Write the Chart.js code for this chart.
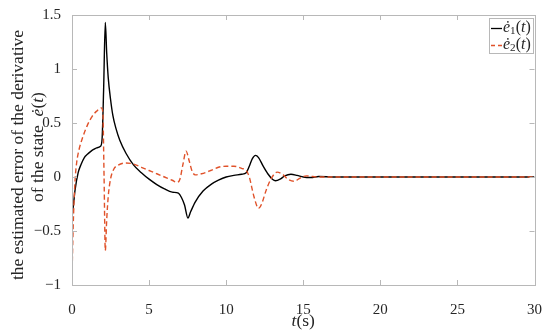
<!DOCTYPE html>
<html>
<head>
<meta charset="utf-8">
<script src="https://cdn.jsdelivr.net/npm/chart.js@4.4.1/dist/chart.umd.min.js"></script>
<style>
  html, body { margin: 0; padding: 0; background: #fff; }
  #wrap { width: 550px; height: 334px; }
</style>
</head>
<body>
<div id="wrap"><canvas id="myChart"></canvas></div>
<script>
'use strict'

// DATA
const e1Time = [0, 0.1, 0.2, 0.4, 0.6, 0.8, 1.0, 1.2, 1.4, 1.6, 1.85, 1.95, 2.05, 2.16, 2.25, 2.35, 2.5, 2.65, 2.85, 3.1, 3.5, 4.0, 4.5, 5.0, 5.5, 6.0, 6.5, 6.9, 7.1, 7.3, 7.52, 7.7, 8.0, 8.5, 9.0, 9.5, 10.0, 10.5, 11.0, 11.3, 11.5, 11.7, 11.9, 12.1, 12.4, 12.7, 13.0, 13.2, 13.5, 13.8, 14.2, 14.6, 15.0, 15.5, 16, 17, 20, 25, 30];
const e1Values = [-0.38, -0.25, -0.12, 0.04, 0.12, 0.18, 0.21, 0.235, 0.255, 0.27, 0.285, 0.35, 0.8, 1.43, 1.15, 0.92, 0.72, 0.57, 0.45, 0.34, 0.22, 0.11, 0.04, -0.02, -0.07, -0.11, -0.14, -0.15, -0.19, -0.26, -0.38, -0.32, -0.23, -0.13, -0.07, -0.03, 0.0, 0.015, 0.025, 0.04, 0.1, 0.17, 0.2, 0.18, 0.1, 0.03, -0.02, -0.035, -0.02, 0.01, 0.025, 0.015, 0.0, -0.005, 0.005, 0, 0, 0, 0];

const e2Time = [0, 0.05, 0.1, 0.2, 0.3, 0.45, 0.7, 1.0, 1.3, 1.6, 1.9, 2.0, 2.08, 2.16, 2.25, 2.35, 2.5, 2.7, 3.0, 3.5, 4.0, 4.5, 5.0, 5.5, 6.0, 6.5, 6.8, 7.0, 7.2, 7.4, 7.6, 7.8, 8.0, 8.4, 9.0, 9.5, 10.0, 10.5, 11.0, 11.3, 11.5, 11.8, 12.1, 12.3, 12.6, 12.9, 13.3, 13.7, 14.0, 14.4, 14.8, 15.2, 15.6, 16, 17, 20, 25, 30];
const e2Values = [-0.93, -0.6, -0.35, -0.03, 0.13, 0.25, 0.37, 0.48, 0.56, 0.61, 0.64, 0.6, 0.0, -0.68, -0.4, -0.18, -0.02, 0.07, 0.11, 0.13, 0.12, 0.09, 0.06, 0.03, 0.0, -0.03, -0.05, -0.02, 0.12, 0.24, 0.15, 0.05, 0.02, 0.03, 0.06, 0.09, 0.1, 0.1, 0.08, 0.06, 0.0, -0.18, -0.29, -0.25, -0.12, -0.02, 0.045, 0.02, -0.02, -0.04, -0.01, 0.01, 0.005, 0, 0, 0, 0, 0];

const xTicks = [0, 5, 10, 15, 20, 25, 30];
const yTicks = [-1, -0.5, 0, 0.5, 1, 1.5];

const SERIF = "'Liberation Serif', 'Times New Roman', serif";
const AXIS_GREY = '#b8b8b8';
const TEXT_DARK = '#262626';
const RED = '#e0522a';

function toPoints(times, values) {
  return times.map((t, i) => ({ x: t, y: values[i] }));
}

function tickText(v) {
  return String(v).replace('-', '\u2212');
}

// text made of parts: [text, style] style = 'n' normal, 'i' italic, 'sub' subscript
function richWidth(ctx, parts, size) {
  let w = 0;
  for (const [s, st] of parts) {
    let sz = st === 'sub' ? size * 0.7 : size;
    ctx.font = (st === 'i' ? 'italic ' : '') + sz + 'px ' + SERIF;
    w += ctx.measureText(s).width;
  }
  return w;
}

function drawRich(ctx, parts, x, y, size) {
  let cx = x;
  ctx.textAlign = 'left';
  for (const [s, st] of parts) {
    let sz = st === 'sub' ? size * 0.7 : size;
    ctx.font = (st === 'i' ? 'italic ' : '') + sz + 'px ' + SERIF;
    ctx.fillText(s, cx, st === 'sub' ? y + size * 0.22 : y);
    cx += ctx.measureText(s).width;
  }
}

const boxPlugin = {
  id: 'boxPlugin',
  afterDatasetsDraw(chart) {
    const ctx = chart.ctx;
    const a = chart.chartArea;
    const x = chart.scales.x;
    const y = chart.scales.y;
    ctx.save();
    ctx.strokeStyle = AXIS_GREY;
    ctx.lineWidth = 1;
    ctx.strokeRect(Math.round(a.left) + 0.5, Math.round(a.top) + 0.5, Math.round(a.right - a.left), Math.round(a.bottom - a.top));
    ctx.beginPath();
    x.ticks.forEach(t => {
      let px = Math.round(x.getPixelForValue(t.value)) + 0.5;
      ctx.moveTo(px, a.bottom); ctx.lineTo(px, a.bottom - 5);
      ctx.moveTo(px, a.top); ctx.lineTo(px, a.top + 5);
    });
    y.ticks.forEach(t => {
      let py = Math.round(y.getPixelForValue(t.value)) + 0.5;
      ctx.moveTo(a.left, py); ctx.lineTo(a.left + 5, py);
      ctx.moveTo(a.right, py); ctx.lineTo(a.right - 5, py);
    });
    ctx.stroke();
    ctx.restore();
  },
  afterDraw(chart) {
    const ctx = chart.ctx;
    const a = chart.chartArea;
    ctx.save();
    ctx.fillStyle = TEXT_DARK;
    ctx.textBaseline = 'middle';
    ctx.textAlign = 'left';

    // y axis title, two lines rotated
    const line1 = [['the estimated error of the derivative', 'n']];
    const line2 = [['of the state', 'n'], ['\u2002', 'n'], ['\u0117', 'i'], ['(', 'n'], ['t', 'i'], [')', 'n']];
    ctx.save();
    ctx.translate(18, 155);
    ctx.rotate(-Math.PI / 2);
    drawRich(ctx, line1, -richWidth(ctx, line1, 17.5) / 2, 0, 17.5);
    ctx.restore();
    ctx.save();
    ctx.translate(38, 147);
    ctx.rotate(-Math.PI / 2);
    drawRich(ctx, line2, -richWidth(ctx, line2, 17.5) / 2, 0, 17.5);
    ctx.restore();

    // x axis title
    const xt = [['t', 'i'], ['(s)', 'n']];
    drawRich(ctx, xt, (a.left + a.right) / 2 - richWidth(ctx, xt, 17.5) / 2, 321, 17.5);

    // legend box
    const lx = 489, ly = 18, lw = 44, lh = 35;
    ctx.fillStyle = '#fff';
    ctx.fillRect(lx, ly, lw, lh);
    ctx.strokeStyle = AXIS_GREY;
    ctx.lineWidth = 1;
    ctx.strokeRect(lx + 0.5, ly + 0.5, lw, lh);

    const items = [
      { color: '#000', dash: [], parts: [['\u0117', 'i'], ['1', 'sub'], ['(', 'n'], ['t', 'i'], [')', 'n']], y: 28 },
      { color: RED, dash: [4, 3], parts: [['\u0117', 'i'], ['2', 'sub'], ['(', 'n'], ['t', 'i'], [')', 'n']], y: 45 }
    ];
    items.forEach(it => {
      ctx.strokeStyle = it.color;
      ctx.lineWidth = 1.3;
      ctx.setLineDash(it.dash);
      ctx.beginPath();
      ctx.moveTo(lx + 2, it.y + 0.5);
      ctx.lineTo(lx + 13, it.y + 0.5);
      ctx.stroke();
      ctx.setLineDash([]);
      ctx.fillStyle = TEXT_DARK;
      drawRich(ctx, it.parts, lx + 14, it.y, 16);
    });
    ctx.restore();
  }
};

const data = {
  datasets: [{
    label: '\u0117\u2081(t)',
    data: toPoints(e1Time, e1Values),
    borderColor: '#000',
    borderWidth: 1.4,
    pointRadius: 0,
    cubicInterpolationMode: 'monotone',
    order: 1
  },
  {
    label: '\u0117\u2082(t)',
    data: toPoints(e2Time, e2Values),
    borderColor: RED,
    borderWidth: 1.4,
    borderDash: [5, 3],
    pointRadius: 0,
    cubicInterpolationMode: 'monotone',
    order: 0
  }]
};

const config = {
  type: 'line',
  data: data,
  options: {
    responsive: true,
    maintainAspectRatio: false,
    animation: false,
    layout: { padding: { left: 0, top: 15, right: 14, bottom: 0 } },
    plugins: {
      legend: { display: false },
      tooltip: { enabled: false }
    },
    scales: {
      x: {
        type: 'linear',
        min: 0,
        max: 30,
        afterBuildTicks: scale => { scale.ticks = xTicks.map(v => ({ value: v })); },
        afterFit: scale => { scale.height = 49; },
        grid: { display: false },
        border: { display: false },
        ticks: { color: TEXT_DARK, padding: 8, maxRotation: 0, callback: tickText, font: { family: SERIF, size: 15 } }
      },
      y: {
        min: -1,
        max: 1.5,
        afterBuildTicks: scale => { scale.ticks = yTicks.map(v => ({ value: v })); },
        afterFit: scale => { scale.width = 72; },
        grid: { display: false },
        border: { display: false },
        ticks: { color: TEXT_DARK, padding: 3, callback: tickText, font: { family: SERIF, size: 15 } }
      }
    }
  },
  plugins: [boxPlugin]
};

let canvasChart = document.getElementById('myChart');
const myChart = new Chart(canvasChart, config);
</script>
</body>
</html>
